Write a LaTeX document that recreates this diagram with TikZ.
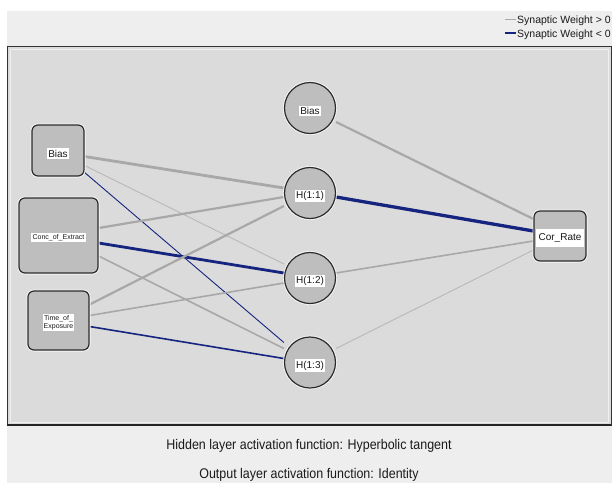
\documentclass[tikz,border=0pt]{standalone}
\usepackage{fontspec}
\setmainfont{Liberation Sans}
\newfontfamily\capfont[FakeStretch=0.89]{Liberation Sans}
\pgfdeclarelayer{back}
\pgfdeclarelayer{bg}
\pgfsetlayers{back,bg,main}
\definecolor{outerbg}{HTML}{EEEEEE}
\definecolor{panelbg}{HTML}{DBDBDB}
\definecolor{nodefill}{HTML}{BEBEBE}
\definecolor{nodeline}{HTML}{2B2B2B}
\definecolor{posline}{HTML}{A8A8A8}
\definecolor{posthin}{HTML}{B8B8B8}
\definecolor{negline}{HTML}{15247E}
\definecolor{txt}{HTML}{1A1A1A}
\tikzset{
  inbox/.style={draw=nodeline, line width=1.2pt, fill=nodefill, rounded corners=6pt, inner sep=0pt,
    preaction={draw=white!75!panelbg, line width=3pt}},
  hcirc/.style={circle, draw=nodeline, line width=1.2pt, fill=nodefill, minimum size=51pt, inner sep=0pt,
    preaction={draw=white!75!panelbg, line width=3pt}},
  lbl/.style={fill=white, text=txt, inner xsep=1.5pt, inner ysep=1.5pt, font=\fontsize{10}{12}\selectfont},
  slbl/.style={fill=white, text=txt, inner xsep=1.2pt, inner ysep=1.2pt, font=\fontsize{7}{8.5}\selectfont, align=center},
  legtext/.style={anchor=base west, inner sep=0pt, text=txt, font=\fontsize{10.5}{12}\selectfont},
  captext/.style={anchor=base, inner sep=0pt, text=txt, font=\capfont\fontsize{14}{16}\selectfont},
  posw/.style={draw=posline},
  poswl/.style={draw=posthin},
  negw/.style={draw=negline},
  wa/.style={line width=0.9pt},
  wb/.style={line width=1.6pt},
  wbb/.style={line width=2.2pt},
  wc/.style={line width=2.8pt},
  wd/.style={line width=3.3pt}
}
\begin{document}
\begin{tikzpicture}[x=1pt,y=-1pt]
\useasboundingbox (0,0) rectangle (612,483);
\begin{pgfonlayer}{back}
\fill[white] (0,0) rectangle (612,483);
\fill[outerbg] (7,11) rectangle (612,483);
\draw[fill=panelbg, draw=black!80, line width=0.8pt] (7.5,46) rectangle (611,425);
\draw[white!55!panelbg, line width=1pt] (10.5,49) rectangle (608,422);
\draw[black!85, line width=2pt] (7,425) -- (611.4,425);
\end{pgfonlayer}

% nodes
\node[inbox, minimum width=52pt, minimum height=51pt] (inBias) at (58,150.5) {};
\node[inbox, minimum width=79pt, minimum height=75pt] (inConc) at (58.5,235.5) {};
\node[inbox, minimum width=61pt, minimum height=59pt] (inTime) at (58.5,320.5) {};
\node[hcirc] (hBias) at (310,108) {};
\node[hcirc] (H11) at (310,193) {};
\node[hcirc] (H12) at (310,278) {};
\node[hcirc] (H13) at (310,362.5) {};
\node[inbox, minimum width=52pt, minimum height=50pt] (out) at (560,236) {};

% labels
\node[lbl] (lInBias) at ([yshift=-3pt]inBias.center) {Bias};
\node[slbl] (lConc) at ([yshift=-2pt]inConc.center) {Conc\_of\_Extract};
\node[slbl] (lTime) at ([yshift=-2pt]inTime.center) {Time\_of\_\\Exposure};
\node[lbl] (lhBias) at ([yshift=-3pt]hBias.center) {Bias};
\node[lbl] (lH11) at ([yshift=-3pt]H11.center) {H(1:1)};
\node[lbl] (lH12) at ([yshift=-3pt]H12.center) {H(1:2)};
\node[lbl] (lH13) at ([yshift=-3pt]H13.center) {H(1:3)};
\node[lbl, minimum width=48pt, minimum height=18pt] (lOut) at ([yshift=-1.5pt]out.center) {Cor\_Rate};

% connectors
\begin{pgfonlayer}{bg}
\draw[posw, wc]  ([yshift=-6pt]inBias.east) -- ([yshift=5pt]H11.west);
\draw[poswl, wa] ([yshift=-15pt]inBias.east) -- ([yshift=14pt]H12.west);
\draw[negw, wa]  ([yshift=-22pt]inBias.east) -- ([yshift=20pt]H13.west);
\draw[posw, wbb] ([yshift=7.5pt]inConc.east) -- ([yshift=-4pt]H11.west);
\draw[negw, wc]  ([yshift=-7.5pt]inConc.east) -- ([yshift=5pt]H12.west);
\draw[posw, wb]  ([yshift=-20.5pt]inConc.east) -- ([yshift=14pt]H13.west);
\draw[posw, wbb] ([yshift=16pt]inTime.east) -- ([yshift=-13pt]H11.west);
\draw[posw, wb]  ([yshift=5pt]inTime.east) -- ([yshift=-5pt]H12.west);
\draw[negw, wb]  ([yshift=-6pt]inTime.east) -- ([yshift=4pt]H13.west);
\draw[posw, wbb] ([yshift=-14pt]hBias.east) -- ([yshift=17pt]out.west);
\draw[negw, wd]  ([yshift=-4pt]H11.east) -- ([yshift=5pt]out.west);
\draw[posw, wb]  ([yshift=5pt]H12.east) -- ([yshift=-5pt]out.west);
\draw[poswl, wa] ([yshift=14pt]H13.east) -- ([yshift=-14pt]out.west);
\end{pgfonlayer}

% legend
\node[legtext] (legPos) at (517,23) {Synaptic Weight > 0};
\node[legtext] (legNeg) at (517,37) {Synaptic Weight < 0};
\draw[posline, line width=0.9pt] ([xshift=-1pt,yshift=3.8pt]legPos.base west) -- ++(-11,0);
\draw[negline, line width=2pt] ([xshift=-1pt,yshift=3.8pt]legNeg.base west) -- ++(-11,0);

% captions
\node[captext] (capHidden) at (309,449) {Hidden layer activation function: Hyperbolic tangent};
\node[captext] (capOutput) at (309,478) {Output layer activation function: Identity};
\end{tikzpicture}
\end{document}
